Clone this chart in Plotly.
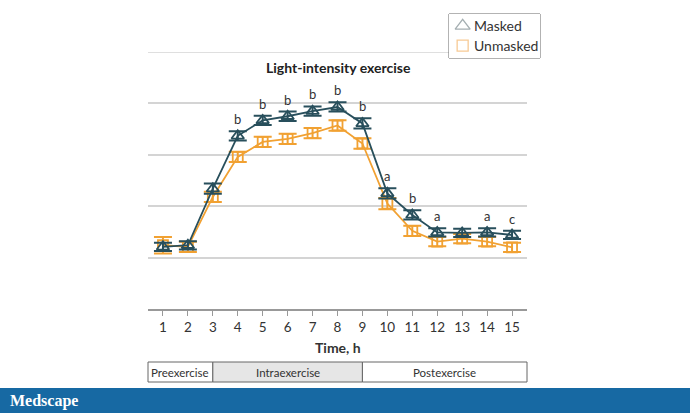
import plotly.graph_objects as go

hours = list(range(1, 16))
masked = [1.21, 1.24, 2.34, 3.37, 3.67, 3.75, 3.85, 3.93, 3.61, 2.25, 1.83, 1.49, 1.48, 1.49, 1.44]
masked_err = [0.08, 0.08, 0.1, 0.09, 0.09, 0.09, 0.09, 0.09, 0.1, 0.1, 0.09, 0.08, 0.08, 0.08, 0.08]
unmasked = [1.24, 1.21, 2.18, 2.96, 3.25, 3.31, 3.42, 3.57, 3.22, 2.05, 1.52, 1.31, 1.37, 1.31, 1.20]
unmasked_err = [0.16, 0.1, 0.1, 0.1, 0.1, 0.1, 0.1, 0.1, 0.1, 0.11, 0.1, 0.09, 0.09, 0.09, 0.09]
sig_letters = ["", "", "", "b", "b", "b", "b", "b", "b", "a", "b", "a", "", "a", "c"]
phases = ["Preexercise", "Intraexercise", "Postexercise"]
phase_bounds = [0.4, 3, 9, 15.6]
legend_names = ["Masked", "Unmasked"]

W, H = 690, 413
FONT = "Lato, sans-serif"
TEAL = "#284f5c"
ORANGE = "#f1a132"

x0p, x1p = 148 / W, 527 / W
y_bot, y_top = 1 - 309 / H, 1 - 52 / H
# legend box (pixels)
LX0, LX1, LY0, LY1 = 449, 540, 14, 58

fig = go.Figure()
fig.add_trace(go.Scatter(
    x=hours, y=unmasked, mode="lines+markers", showlegend=False,
    line=dict(color=ORANGE, width=1.8),
    marker=dict(symbol="square-open", size=10, color=ORANGE, line=dict(width=1.8)),
    error_y=dict(type="data", array=unmasked_err, color=ORANGE, thickness=2, width=9),
))
fig.add_trace(go.Scatter(
    x=hours, y=masked, mode="lines+markers", showlegend=False,
    line=dict(color=TEAL, width=1.8),
    marker=dict(symbol="triangle-up-open", size=11, color=TEAL, line=dict(width=1.8)),
    error_y=dict(type="data", array=masked_err, color=TEAL, thickness=2, width=9),
))
# legend markers on a hidden overlay axis
fig.add_trace(go.Scatter(x=[0.15, 0.15], y=[0.73, 0.28], xaxis="x2", yaxis="y2", mode="markers",
                         showlegend=False, hoverinfo="skip",
                         marker=dict(symbol=["triangle-up-open", "square-open"], size=[13, 11],
                                     color=["#7d8b90", "#f3b466"], line=dict(width=1.3))))

annotations = []
for h, m, e, s in zip(hours, masked, masked_err, sig_letters):
    if s:
        annotations.append(dict(x=h, y=m + e, xref="x", yref="y", text=s, showarrow=False,
                                yanchor="bottom", yshift=2, font=dict(size=13, color="#333", family=FONT)))

for name, yy in zip(legend_names, [0.73, 0.28]):
    annotations.append(dict(x=0.255, y=yy, xref="x2", yref="y2", text=name, xanchor="left", yanchor="middle",
                            showarrow=False, font=dict(size=14, color="#333", family=FONT)))

annotations.append(dict(x=338 / W, y=1 - 68 / H, xref="paper", yref="paper", text="<b>Light-intensity exercise</b>",
                        xanchor="center", yanchor="middle", showarrow=False,
                        font=dict(size=14, color="#222", family=FONT)))
annotations.append(dict(x=338 / W, y=1 - 347 / H, xref="paper", yref="paper", text="<b>Time, h</b>",
                        xanchor="center", yanchor="middle", showarrow=False,
                        font=dict(size=14, color="#333", family=FONT)))

shapes = [dict(type="line", xref="paper", yref="y", x0=x0p, x1=x1p, y0=5, y1=5,
               line=dict(color="#d4d4d4", width=1.5), layer="below"),
          dict(type="rect", xref="paper", yref="paper", x0=LX0 / W, x1=LX1 / W, y0=1 - LY1 / H, y1=1 - LY0 / H,
               line=dict(color="#666", width=1), fillcolor="white", layer="below")]
py0, py1 = 1 - 362 / H, 1 - 382 / H
for i, p in enumerate(phases):
    a, b = phase_bounds[i], phase_bounds[i + 1]
    fa = x0p + (a - 0.4) / 15.2 * (x1p - x0p)
    fb = x0p + (b - 0.4) / 15.2 * (x1p - x0p)
    shapes.append(dict(type="rect", xref="paper", yref="paper", x0=fa, x1=fb, y0=py1, y1=py0,
                       line=dict(color="#666", width=1),
                       fillcolor="#e6e6e6" if p == "Intraexercise" else "white"))
    annotations.append(dict(x=(fa + fb) / 2, y=(py0 + py1) / 2, xref="paper", yref="paper", text=p,
                            xanchor="center", yanchor="middle", showarrow=False,
                            font=dict(size=11.5, color="#333", family=FONT)))

# Medscape banner
shapes.append(dict(type="rect", xref="paper", yref="paper", x0=0, x1=1, y0=0, y1=1 - 388 / H,
                   line=dict(width=0), fillcolor="#1769a3"))
annotations.append(dict(x=8 / W, y=(1 - 388 / H) / 2, xref="paper", yref="paper", text="<b>Medscape</b>",
                        xanchor="left", yanchor="middle", showarrow=False,
                        font=dict(size=16, color="white", family="Liberation Serif, DejaVu Serif, serif")))

fig.update_layout(
    width=W, height=H, margin=dict(l=0, r=0, t=0, b=0),
    paper_bgcolor="white", plot_bgcolor="white", showlegend=False,
    font=dict(family=FONT, color="#333"),
    xaxis=dict(domain=[x0p, x1p], range=[0.4, 15.6], tickmode="array", tickvals=hours,
               showgrid=False, zeroline=False, showline=True, linecolor="#999", linewidth=1.5,
               ticks="outside", ticklen=5, tickcolor="#999", tickfont=dict(size=13.5, color="#333")),
    yaxis=dict(domain=[y_bot, y_top], range=[0, 5], tickvals=[1, 2, 3, 4, 5], showticklabels=False,
               showgrid=True, gridcolor="#d4d4d4", gridwidth=1.5, zeroline=False),
    xaxis2=dict(domain=[LX0 / W, LX1 / W], range=[0, 1], visible=False, anchor="y2", fixedrange=True),
    yaxis2=dict(domain=[1 - LY1 / H, 1 - LY0 / H], range=[0, 1], visible=False, anchor="x2", fixedrange=True),
    annotations=annotations, shapes=shapes,
)
fig.write_html("out.html", config={"displayModeBar": False},
               post_script="document.body.style.margin='0';")
